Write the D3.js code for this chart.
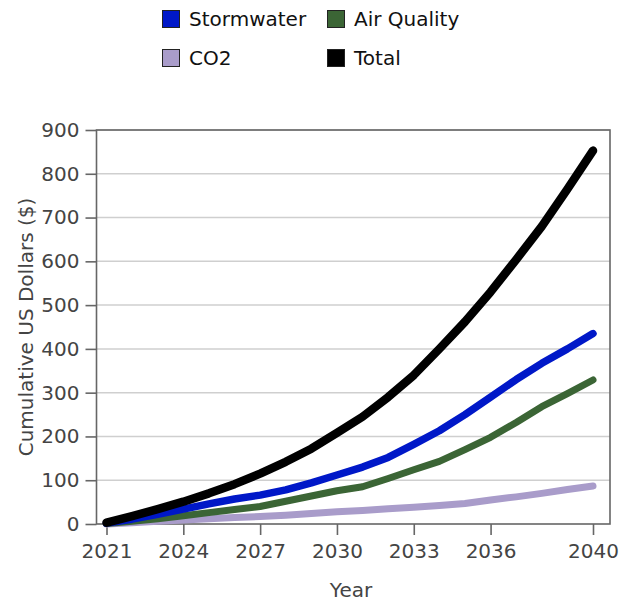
<!DOCTYPE html>
<html>
<head>
<meta charset="utf-8">
<script src="https://cdn.jsdelivr.net/npm/d3@7"></script>
<style>
  html, body { margin: 0; padding: 0; background: #fff; }
  svg { display: block; font-family: "DejaVu Sans", sans-serif; }
</style>
</head>
<body>
<div id="chart"></div>
<script>
const years = [2021,2022,2023,2024,2025,2026,2027,2028,2029,2030,2031,2032,2033,2034,2035,2036,2037,2038,2039,2040];
const stormwater = [2,11,22,34,46,57,66,78,94,112,130,152,182,213,250,290,330,367,400,435];
const airQuality = [1,6,12,19,26,33,40,52,64,76,85,104,124,143,170,198,232,268,298,329];
const co2 = [0,3,6,9,12,15,17,20,24,28,31,35,38,42,47,55,62,70,79,87];
const total = [3,18,34,51,70,91,115,142,172,208,245,290,340,400,462,530,604,680,765,853];

const seriesNames = ["Stormwater","Air Quality","CO2","Total"];
const seriesColors = ["#0018c8","#3b6535","#a99cca","#000000"];
const seriesValues = [stormwater, airQuality, co2, total];
const seriesWidths = [7.5, 7, 7, 8.5];

const xTicks = [2021,2024,2027,2030,2033,2036,2040];
const yTicks = [0,100,200,300,400,500,600,700,800,900];

const W = 619, H = 603;
const frame = {left: 96.5, right: 610, top: 130, bottom: 524};

const svg = d3.select("#chart").append("svg").attr("width", W).attr("height", H);

const x = d3.scaleLinear().domain([2021, 2040]).range([106.5, 593]);
const y = d3.scaleLinear().domain([0, 900]).range([frame.bottom, frame.top]);

// gridlines
svg.append("g").selectAll("line").data(yTicks.filter(d => d > 0)).join("line")
  .attr("x1", frame.left).attr("x2", frame.right)
  .attr("y1", d => y(d)).attr("y2", d => y(d))
  .attr("stroke", "#cfcfcf").attr("stroke-width", 1.5);

// frame
svg.append("rect")
  .attr("x", frame.left).attr("y", frame.top)
  .attr("width", frame.right - frame.left).attr("height", frame.bottom - frame.top)
  .attr("fill", "none").attr("stroke", "#666").attr("stroke-width", 1.6);

// axes
const yAxis = d3.axisLeft(y).tickValues(yTicks).tickSize(11).tickPadding(6).tickFormat(d3.format("d"));
const gy = svg.append("g").attr("transform", `translate(${frame.left},0)`).call(yAxis);
const xAxis = d3.axisBottom(x).tickValues(xTicks).tickSize(11).tickPadding(9).tickFormat(d3.format("d"));
const gx = svg.append("g").attr("transform", `translate(0,${frame.bottom})`).call(xAxis);
[gx, gy].forEach(g => {
  g.select(".domain").remove();
  g.selectAll(".tick line").attr("stroke", "#666").attr("stroke-width", 1.6);
  g.selectAll(".tick text").attr("fill", "#444").attr("font-size", 20)
    .attr("font-family", "DejaVu Sans, sans-serif");
});

// axis titles
svg.append("text").attr("x", 351).attr("y", 597)
  .attr("text-anchor", "middle").attr("fill", "#444").attr("font-size", 20).text("Year");
svg.append("text").attr("transform", `translate(33,${(frame.top + frame.bottom) / 2}) rotate(-90)`)
  .attr("text-anchor", "middle").attr("fill", "#444").attr("font-size", 20).text("Cumulative US Dollars ($)");

// lines (drawn so Total is on top)
const line = d3.line().x((d, i) => x(years[i])).y(d => y(d));
const order = [2, 1, 0, 3];
svg.append("g").selectAll("path").data(order).join("path")
  .attr("d", i => line(seriesValues[i]))
  .attr("fill", "none")
  .attr("stroke", i => seriesColors[i])
  .attr("stroke-width", i => seriesWidths[i])
  .attr("stroke-linecap", "round").attr("stroke-linejoin", "round");

// legend
const legendPos = [[162, 10], [327, 10], [162, 49], [327, 49]];
const lg = svg.append("g").selectAll("g").data(seriesNames).join("g")
  .attr("transform", (d, i) => `translate(${legendPos[i][0]},${legendPos[i][1]})`);
lg.append("rect").attr("x", 0.5).attr("y", 0.5).attr("width", 17).attr("height", 17)
  .attr("fill", (d, i) => seriesColors[i]).attr("stroke", "#222").attr("stroke-width", 1);
lg.append("text").attr("x", 27).attr("y", 16).attr("font-size", 20).attr("fill", "#111").text(d => d);
</script>
</body>
</html>
